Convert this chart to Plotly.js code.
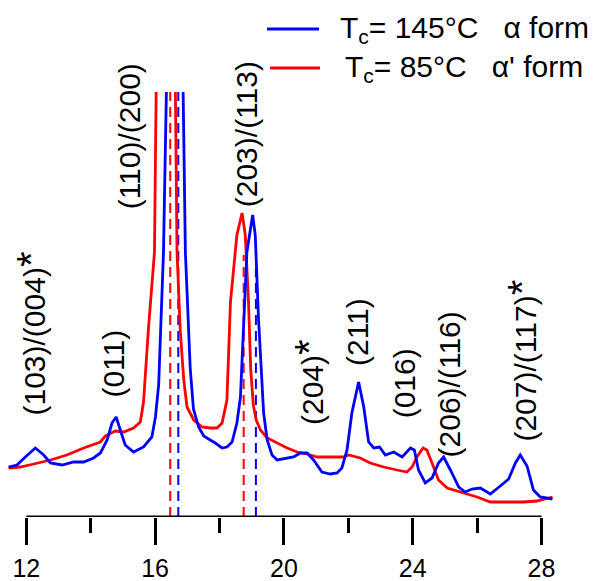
<!DOCTYPE html>
<html>
<head>
<meta charset="utf-8">
<script src="https://cdn.plot.ly/plotly-3.0.1.min.js"></script>
<style>html,body{margin:0;padding:0;background:#fff;}#chart{width:594px;height:581px;}</style>
</head>
<body>
<div id="chart"></div>
<script>
// 2θ (deg) and intensity (a.u.)
const blueTheta = [11.45,11.71,11.97,12.28,12.54,12.75,13.11,13.47,13.78,14.09,14.30,14.51,14.66,14.79,14.92,15.07,15.33,15.64,15.90,16.01,16.11,16.26,16.35,16.61,16.87,16.94,17.09,17.19,17.35,17.51,17.71,17.87,18.08,18.23,18.39,18.54,18.65,18.75,18.85,19.03,19.11,19.21,19.32,19.37,19.48,19.63,19.79,20.10,20.30,20.51,20.72,20.92,21.18,21.44,21.65,21.80,21.96,22.11,22.32,22.48,22.63,22.79,22.97,23.15,23.41,23.67,23.93,24.05,24.18,24.39,24.60,24.80,24.96,25.17,25.43,25.63,25.84,26.10,26.41,26.72,26.98,27.19,27.34,27.55,27.75,27.96,28.22,28.34];
const blueI = [50,52,60,69,62,54,52,55,55,59,64,77,94,100,87,72,65,70,80,100,132,265,425,1400,425,265,149,108,90,81,77,74,69,70,75,94,120,199,265,302,282,199,132,104,77,62,57,59,60,64,64,57,45,43,44,49,67,104,135,110,75,69,70,62,65,60,69,67,47,34,39,54,60,47,30,25,28,29,23,31,38,54,62,51,27,20,19,18];

const redTheta = [11.45,11.81,12.23,12.75,13.26,13.78,14.30,14.45,14.76,15.02,15.33,15.54,15.64,15.79,15.98,16.06,16.35,16.63,16.68,16.78,16.89,16.99,17.20,17.46,17.71,17.92,18.08,18.23,18.34,18.54,18.70,18.80,18.90,18.97,19.05,19.14,19.27,19.48,19.79,20.10,20.41,20.72,21.03,21.34,21.85,22.01,22.37,22.68,23.10,23.51,23.82,23.98,24.13,24.32,24.44,24.60,24.80,25.07,25.48,26.00,26.41,26.93,27.44,27.86,28.22,28.34];
const redI = [49,50,53,57,62,69,75,81,86,85,89,95,115,187,265,425,1400,425,265,187,137,110,97,90,89,89,94,117,215,282,304,282,215,147,112,97,87,79,74,69,65,63,60,60,60,62,59,54,50,47,45,50,60,69,67,54,37,29,25,20,15,15,15,16,19,20];

// peak positions marked by dashed lines (2θ) and their heights
const redPeakTheta = [16.47, 18.75];
const redPeakTop = [425, 262];
const bluePeakTheta = [16.72, 19.13];
const bluePeakTop = [425, 249];

// reflection labels
const STAR = '<span style="font-size:40px">*</span>';
const reflLabels = ["(103)/(004)" + STAR, "(011)", "(110)/(200)", "(203)/(113)", "(204)" + STAR, "(211)", "(016)", "(206)/(116)", "(207)/(117)" + STAR];
const reflTheta = [12.13, 14.68, 15.20, 18.83, 20.78, 22.27, 23.74, 25.14, 27.38];
const reflBase = [99, 117, 306, 308, 90, 149, 97, 58, 73];

// x ticks
const majorTicks = [12, 16, 20, 24, 28];

const seriesNames = ["T<sub>c</sub>= 145°C   α form", "T<sub>c</sub>= 85°C   α' form"];

const FONT = "Liberation Sans, Arial, sans-serif";

function dashTraces(xs, tops, color) {
  const x = [], y = [];
  xs.forEach((v, i) => { x.push(v, v, null); y.push(0, tops[i], null); });
  return {x, y, mode: 'lines', showlegend: false, hoverinfo: 'skip',
          line: {color, width: 2, dash: '10px,6px'}};
}

const traces = [
  dashTraces(redPeakTheta, redPeakTop, '#ff0000'),
  dashTraces(bluePeakTheta, bluePeakTop, '#0000ff'),
  {x: redTheta, y: redI, mode: 'lines', name: seriesNames[1], line: {color: '#ff0000', width: 2.8}},
  {x: blueTheta, y: blueI, mode: 'lines', name: seriesNames[0], line: {color: '#0000ff', width: 2.8}}
];

const annotations = reflLabels.map((t, i) => ({
  x: reflTheta[i], y: reflBase[i], xref: 'x', yref: 'y', text: t, textangle: -90,
  showarrow: false, xanchor: 'center', yanchor: 'bottom',
  font: {family: FONT, size: 30, color: '#000'}
}));

// legend (custom)
const W = 549, L = 7, B = 517, H = 425;
const px2x = p => (p - L) / W, py2y = p => (B - p) / H;
annotations.push(
  {xref: 'paper', yref: 'paper', x: px2x(338), y: py2y(30), xanchor: 'left', yanchor: 'middle',
   text: seriesNames[0], showarrow: false, font: {family: FONT, size: 30, color: '#000'}},
  {xref: 'paper', yref: 'paper', x: px2x(343), y: py2y(69), xanchor: 'left', yanchor: 'middle',
   text: seriesNames[1], showarrow: false, font: {family: FONT, size: 30, color: '#000'}}
);

const shapes = [
  {type: 'line', xref: 'x', yref: 'y', x0: majorTicks[0], x1: majorTicks[majorTicks.length-1], y0: 0, y1: 0,
   line: {color: '#000', width: 3}},
  {type: 'line', xref: 'paper', yref: 'paper', x0: px2x(267), x1: px2x(319), y0: py2y(29), y1: py2y(29),
   line: {color: '#0000ff', width: 3}},
  {type: 'line', xref: 'paper', yref: 'paper', x0: px2x(270), x1: px2x(320), y0: py2y(68), y1: py2y(68),
   line: {color: '#ff0000', width: 3}}
];

const layout = {
  width: 594, height: 581,
  margin: {l: L, r: 594 - L - W, t: 92, b: 581 - B, pad: 0},
  paper_bgcolor: '#fff', plot_bgcolor: '#fff',
  showlegend: false,
  xaxis: {range: [11.4, 28.45], showgrid: false, zeroline: false, showline: false,
          tickmode: 'array', tickvals: majorTicks, ticktext: majorTicks.map(String),
          ticks: 'outside', ticklen: 27, tickwidth: 3, tickcolor: '#000',
          minor: {dtick: 2, tick0: 12, ticks: 'outside', ticklen: 15, tickwidth: 3, tickcolor: '#000'},
          tickfont: {family: FONT, size: 25, color: '#000'}, ticklabelstandoff: 2},
  yaxis: {range: [0, 425], visible: false, showgrid: false, zeroline: false},
  annotations, shapes
};

Plotly.newPlot('chart', traces, layout, {displayModeBar: false, staticPlot: true});
</script>
</body>
</html>
